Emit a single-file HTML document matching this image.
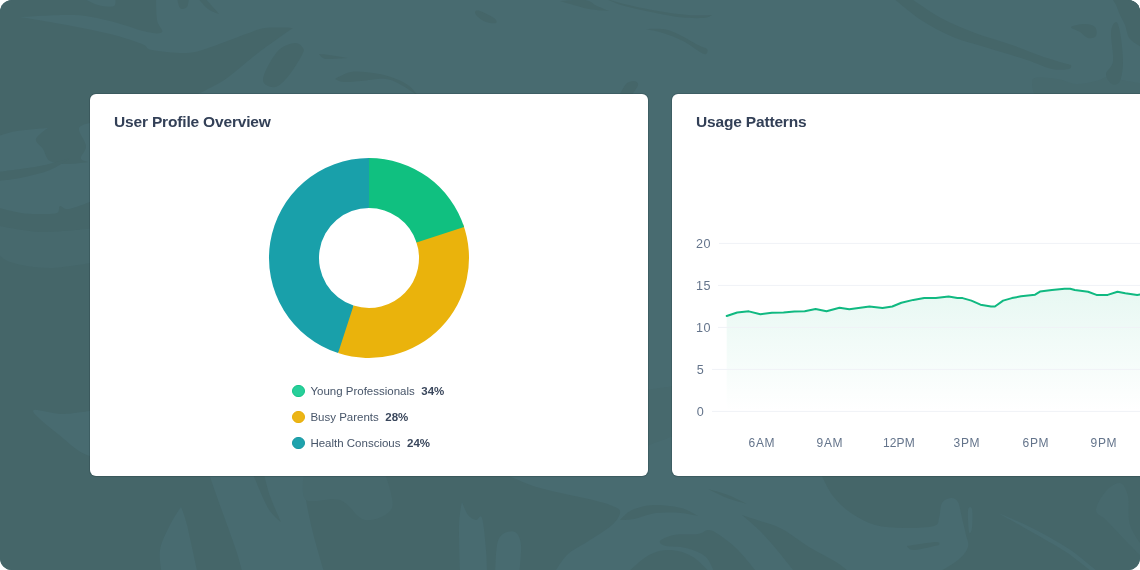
<!DOCTYPE html>
<html lang="en">
<head>
<meta charset="utf-8">
<title>Dashboard</title>
<style>
  html, body { margin: 0; padding: 0; background: #ffffff; }
  body { width: 1140px; height: 570px; overflow: hidden; font-family: "Liberation Sans", sans-serif; }
  .stage { position: relative; width: 1140px; height: 570px; border-radius: 12px; overflow: hidden; background: #456669; }
  .bg { position: absolute; left: 0; top: 0; width: 1140px; height: 570px; }
  .card { position: absolute; top: 94px; width: 558px; height: 382px; background: #ffffff; border-radius: 6px; box-shadow: 0 0 0 1px rgba(10,30,35,0.16), 0 1px 2px rgba(0,0,0,0.04); }
  .card.left { left: 90px; }
  .card.right { left: 672px; }
  .title { position: absolute; left: 24px; top: 18px; font-size: 15.5px; font-weight: 700; color: #334057; white-space: nowrap; letter-spacing: -0.17px; line-height: 20px; }
  .donut { position: absolute; left: 0; top: 0; width: 558px; height: 382px; }
  .legend { position: absolute; left: 202px; top: 284px; font-size: 11.5px; color: #475569; }
  .legend .row { height: 26px; display: flex; align-items: center; white-space: nowrap; }
  .legend .dot { width: 10.4px; height: 10.4px; border-radius: 50%; border: 1px solid; margin-left: 0.4px; margin-right: 5.6px; box-sizing: content-box; }
  .legend b { margin-left: 6.5px; color: #3a475c; font-weight: 700; }
  .chart { position: absolute; left: 0; top: 0; width: 558px; height: 382px; }
  .ylab, .xlab { position: absolute; font-size: 12px; color: #64748b; white-space: nowrap; line-height: 14px; }
  .ylab { letter-spacing: 0.5px; font-size: 12.6px; }
  .xlab { letter-spacing: 0.7px; margin-left: 0.95px; }
  .xlab { transform: translateX(-50%); }
</style>
</head>
<body>
<div class="stage">
  <svg class="bg" viewBox="0 0 1140 570">
    <rect width="1140" height="570" fill="#456669"/>
    <g fill="#486b70">
      <path d="M156,-5 C156.0,-5.0 156.0,13.8 157,20 C158.0,26.2 163.7,30.0 162,32 C160.3,34.0 155.7,33.8 147,32 C138.3,30.2 122.2,23.8 110,21 C97.8,18.2 89.0,15.7 74,15 C59.0,14.3 20.0,17.0 20,17 C20.0,17.0 46.0,21.2 61,24 C76.0,26.8 96.5,30.7 110,34 C123.5,37.3 135.0,41.3 142,44 C149.0,46.7 144.5,48.5 152,50 C159.5,51.5 177.2,53.5 187,53 C196.8,52.5 201.2,50.2 211,47 C220.8,43.8 237.0,37.2 246,34 C255.0,30.8 257.2,29.0 265,28 C272.8,27.0 293.0,28.0 293,28 C293.0,28.0 285.8,32.8 280,37 C274.2,41.2 265.3,47.3 258,53 C250.7,58.7 242.2,66.2 236,71 C229.8,75.8 228.7,77.5 221,82 C213.3,86.5 190.0,98.0 190,98 C190.0,98.0 1160.0,100.0 1160,100 C1160.0,100.0 1160.0,-5.0 1160,-5 C1160.0,-5.0 156.0,-5.0 156,-5 Z"/>
      <path d="M81,-3 C81.0,-3.0 115.0,-3.0 115,-3 C115.0,-3.0 116.8,4.7 114,6 C111.2,7.3 103.5,6.5 98,5 C92.5,3.5 81.0,-3.0 81,-3 Z"/>
      <path d="M-5,137 C-5.0,137.0 8.2,132.5 17,131 C25.8,129.5 48.0,128.0 48,128 C48.0,128.0 36.8,135.5 36,139 C35.2,142.5 40.7,145.3 43,149 C45.3,152.7 45.7,158.5 50,161 C54.3,163.5 61.5,164.0 69,164 C76.5,164.0 95.0,161.0 95,161 C95.0,161.0 95.0,200.0 95,200 C95.0,200.0 74.8,208.0 69,209 C63.2,210.0 62.0,205.3 60,206 C58.0,206.7 60.2,211.7 57,213 C53.8,214.3 47.0,214.0 41,214 C35.0,214.0 28.7,214.2 21,213 C13.3,211.8 -5.0,207.0 -5,207 C-5.0,207.0 -5.0,137.0 -5,137 Z"/>
      <path d="M79,128 C80.5,124.0 95.0,122.0 95,122 C95.0,122.0 95.0,163.0 95,163 C95.0,163.0 82.5,161.8 81,159 C79.5,156.2 86.3,151.2 86,146 C85.7,140.8 77.5,132.0 79,128 Z"/>
      <path d="M34,410 C37.5,409.0 51.8,414.0 62,414 C72.2,414.0 95.0,410.0 95,410 C95.0,410.0 95.0,458.0 95,458 C95.0,458.0 85.2,455.0 79,451 C72.8,447.0 64.3,439.2 58,434 C51.7,428.8 45.0,424.0 41,420 C37.0,416.0 30.5,411.0 34,410 Z"/>
      <path d="M646,92 C646.0,92.0 674.0,92.0 674,92 C674.0,92.0 674.0,478.0 674,478 C674.0,478.0 646.0,478.0 646,478 C646.0,478.0 646.0,92.0 646,92 Z"/>
      <path d="M209,474 C209.0,474.0 304.0,474.0 304,474 C304.0,474.0 304.3,489.5 306,500 C307.7,510.5 310.8,524.5 314,537 C317.2,549.5 325.0,575.0 325,575 C325.0,575.0 243.0,575.0 243,575 C243.0,575.0 239.7,561.2 236,550 C232.3,538.8 225.5,520.7 221,508 C216.5,495.3 209.0,474.0 209,474 Z"/>
      <path d="M181,507 C181.0,507.0 184.2,513.7 187,525 C189.8,536.3 198.0,575.0 198,575 C198.0,575.0 162.0,575.0 162,575 C162.0,575.0 158.7,558.3 160,550 C161.3,541.7 166.5,532.2 170,525 C173.5,517.8 181.0,507.0 181,507 Z"/>
      <path d="M505,474 C505.0,474.0 525.3,483.7 540,488 C554.7,492.3 580.5,496.8 593,500 C605.5,503.2 610.5,504.8 615,507 C619.5,509.2 620.5,510.0 620,513 C619.5,516.0 617.5,520.2 612,525 C606.5,529.8 594.5,537.0 587,542 C579.5,547.0 572.7,549.5 567,555 C561.3,560.5 553.0,575.0 553,575 C553.0,575.0 934.0,575.0 934,575 C934.0,575.0 952.3,564.7 958,560 C963.7,555.3 966.7,551.2 968,547 C969.3,542.8 967.0,539.8 966,535 C965.0,530.2 963.3,523.5 962,518 C960.7,512.5 959.8,505.3 958,502 C956.2,498.7 953.7,497.8 951,498 C948.3,498.2 944.0,499.7 942,503 C940.0,506.3 940.3,514.2 939,518 C937.7,521.8 939.8,524.3 934,526 C928.2,527.7 913.8,528.2 904,528 C894.2,527.8 883.8,527.5 875,525 C866.2,522.5 858.0,517.8 851,513 C844.0,508.2 838.0,502.5 833,496 C828.0,489.5 821.0,474.0 821,474 C821.0,474.0 505.0,474.0 505,474 Z"/>
      <path d="M495,575 C495.0,575.0 495.7,551.8 497,545 C498.3,538.2 500.0,536.2 503,534 C506.0,531.8 512.0,530.2 515,532 C518.0,533.8 520.3,537.8 521,545 C521.7,552.2 519.0,575.0 519,575 C519.0,575.0 495.0,575.0 495,575 Z"/>
      <path d="M460,575 C460.0,575.0 458.7,537.2 459,525 C459.3,512.8 462.0,502.0 462,502 C462.0,502.0 465.7,512.0 468,515 C470.3,518.0 473.7,519.5 476,520 C478.3,520.5 480.3,513.0 482,518 C483.7,523.0 485.2,540.5 486,550 C486.8,559.5 487.0,575.0 487,575 C487.0,575.0 460.0,575.0 460,575 Z"/>
      <path d="M968,510 C968.5,506.2 971.3,506.0 972,509 C972.7,512.0 972.5,524.2 972,528 C971.5,531.8 969.7,535.0 969,532 C968.3,529.0 967.5,513.8 968,510 Z"/>
      <path d="M998,513 C998.0,513.0 1020.2,522.0 1032,528 C1043.8,534.0 1058.0,541.7 1069,549 C1080.0,556.3 1098.0,572.0 1098,572 C1098.0,572.0 1092.0,572.0 1092,572 C1092.0,572.0 1076.3,558.8 1066,552 C1055.7,545.2 1041.3,537.5 1030,531 C1018.7,524.5 998.0,513.0 998,513 Z"/>
    </g>
    <g fill="#47696d">
      <path d="M1033,79 C1036.5,75.5 1049.8,78.2 1057,79 C1064.2,79.8 1069.5,83.7 1076,84 C1082.5,84.3 1090.3,82.3 1096,81 C1101.7,79.7 1105.7,76.2 1110,76 C1114.3,75.8 1116.2,78.7 1122,80 C1127.8,81.3 1145.0,84.0 1145,84 C1145.0,84.0 1145.0,100.0 1145,100 C1145.0,100.0 1036.0,100.0 1036,100 C1036.0,100.0 1029.5,82.5 1033,79 Z"/>
      <path d="M304,474 C304.0,474.0 385.0,474.0 385,474 C385.0,474.0 395.3,500.3 392,508 C388.7,515.7 373.7,521.3 365,520 C356.3,518.7 349.8,503.3 340,500 C330.2,496.7 312.0,504.3 306,500 C300.0,495.7 304.0,474.0 304,474 Z"/>
      <path d="M1096,510 C1096.0,505.2 1102.0,495.5 1106,491 C1110.0,486.5 1116.3,482.2 1120,483 C1123.7,483.8 1126.3,489.0 1128,496 C1129.7,503.0 1127.2,516.0 1130,525 C1132.8,534.0 1145.0,550.0 1145,550 C1145.0,550.0 1145.0,560.0 1145,560 C1145.0,560.0 1131.5,546.7 1125,540 C1118.5,533.3 1110.8,525.0 1106,520 C1101.2,515.0 1096.0,514.8 1096,510 Z"/>
      <path d="M-5,225 C-5.0,225.0 23.3,231.5 40,232 C56.7,232.5 95.0,228.0 95,228 C95.0,228.0 95.0,262.0 95,262 C95.0,262.0 64.2,268.0 50,268 C35.8,268.0 19.2,265.0 10,262 C0.8,259.0 -5.0,250.0 -5,250 C-5.0,250.0 -5.0,225.0 -5,225 Z"/>
      <path d="M646,390 C646.0,390.0 674.0,386.0 674,386 C674.0,386.0 674.0,436.0 674,436 C674.0,436.0 646.0,446.0 646,446 C646.0,446.0 646.0,390.0 646,390 Z"/>
    </g>
    <g fill="#456669">
      <path d="M263,80 C263.0,76.7 265.2,71.2 268,66 C270.8,60.8 275.5,52.8 280,49 C284.5,45.2 291.2,43.2 295,43 C298.8,42.8 301.8,46.0 303,48 C304.2,50.0 304.2,50.7 302,55 C299.8,59.3 294.0,68.8 290,74 C286.0,79.2 281.7,84.0 278,86 C274.3,88.0 270.5,87.0 268,86 C265.5,85.0 263.0,83.3 263,80 Z"/>
      <path d="M319,54 C319.0,54.0 324.2,54.3 329,55 C333.8,55.7 348.0,58.0 348,58 C348.0,58.0 333.2,59.0 329,59 C324.8,59.0 324.7,58.8 323,58 C321.3,57.2 319.0,54.0 319,54 Z"/>
      <path d="M335,79 C335.0,79.0 344.7,73.0 351,72 C357.3,71.0 366.3,72.2 373,73 C379.7,73.8 385.2,75.0 391,77 C396.8,79.0 403.5,81.8 408,85 C412.5,88.2 418.0,96.0 418,96 C418.0,96.0 408.3,88.8 403,86 C397.7,83.2 393.0,79.8 386,79 C379.0,78.2 368.0,80.5 361,81 C354.0,81.5 348.3,82.3 344,82 C339.7,81.7 335.0,79.0 335,79 Z"/>
      <path d="M177,-3 C177.0,-3.0 189.0,-3.0 189,-3 C189.0,-3.0 188.5,5.2 187,7 C185.5,8.8 181.7,9.7 180,8 C178.3,6.3 177.0,-3.0 177,-3 Z"/>
      <path d="M197,-3 C197.0,-3.0 204.0,-3.0 204,-3 C204.0,-3.0 219.0,14.0 219,14 C219.0,14.0 211.7,11.8 208,9 C204.3,6.2 197.0,-3.0 197,-3 Z"/>
      <path d="M475,12 C475.3,11.0 476.8,10.0 480,11 C483.2,12.0 491.3,16.0 494,18 C496.7,20.0 497.3,22.3 496,23 C494.7,23.7 489.0,23.0 486,22 C483.0,21.0 479.8,18.7 478,17 C476.2,15.3 474.7,13.0 475,12 Z"/>
      <path d="M560,1 C560.0,1.0 578.8,-0.8 585,0 C591.2,0.8 593.0,4.2 597,6 C601.0,7.8 609.0,11.0 609,11 C609.0,11.0 595.5,10.2 589,9 C582.5,7.8 574.8,5.3 570,4 C565.2,2.7 560.0,1.0 560,1 Z"/>
      <path d="M604,-2 C604.0,-2.0 615.0,1.8 624,4 C633.0,6.2 647.3,9.2 658,11 C668.7,12.8 679.0,14.3 688,15 C697.0,15.7 712.0,15.0 712,15 C712.0,15.0 708.7,17.7 703,18 C697.3,18.3 687.5,18.2 678,17 C668.5,15.8 655.5,13.0 646,11 C636.5,9.0 628.0,7.2 621,5 C614.0,2.8 604.0,-2.0 604,-2 Z"/>
      <path d="M645,29 C645.0,29.0 657.5,28.2 663,29 C668.5,29.8 672.2,31.3 678,34 C683.8,36.7 693.2,42.5 698,45 C702.8,47.5 705.7,47.5 707,49 C708.3,50.5 707.2,53.5 706,54 C704.8,54.5 703.8,54.2 700,52 C696.2,49.8 689.2,44.2 683,41 C676.8,37.8 669.3,35.0 663,33 C656.7,31.0 645.0,29.0 645,29 Z"/>
      <path d="M619,96 C619.0,96.0 623.5,86.5 626,84 C628.5,81.5 632.0,80.8 634,81 C636.0,81.2 638.5,82.5 638,85 C637.5,87.5 631.0,96.0 631,96 C631.0,96.0 619.0,96.0 619,96 Z"/>
      <path d="M892,-3 C892.0,-3.0 909.0,-3.0 909,-3 C909.0,-3.0 930.0,12.0 941,18 C952.0,24.0 963.2,28.5 975,33 C986.8,37.5 1000.0,40.8 1012,45 C1024.0,49.2 1037.2,54.7 1047,58 C1056.8,61.3 1071.0,65.0 1071,65 C1071.0,65.0 1072.2,68.3 1069,69 C1065.8,69.7 1059.0,70.5 1052,69 C1045.0,67.5 1037.7,63.5 1027,60 C1016.3,56.5 1000.3,51.8 988,48 C975.7,44.2 964.2,41.7 953,37 C941.8,32.3 931.2,26.7 921,20 C910.8,13.3 892.0,-3.0 892,-3 Z"/>
      <path d="M1111,-3 C1111.0,-3.0 1145.0,-3.0 1145,-3 C1145.0,-3.0 1145.0,49.0 1145,49 C1145.0,49.0 1133.3,43.0 1130,39 C1126.7,35.0 1126.7,29.0 1125,25 C1123.3,21.0 1121.5,18.3 1120,15 C1118.5,11.7 1117.5,8.0 1116,5 C1114.5,2.0 1111.0,-3.0 1111,-3 Z"/>
      <path d="M1106,74 C1106.2,70.2 1112.2,68.0 1113,61 C1113.8,54.0 1110.5,38.5 1111,32 C1111.5,25.5 1114.5,22.0 1116,22 C1117.5,22.0 1118.8,25.5 1120,32 C1121.2,38.5 1123.0,52.8 1123,61 C1123.0,69.2 1121.8,77.2 1120,81 C1118.2,84.8 1114.3,85.2 1112,84 C1109.7,82.8 1105.8,77.8 1106,74 Z"/>
      <path d="M1071,27 C1071.8,25.7 1081.0,24.0 1085,24 C1089.0,24.0 1093.2,25.0 1095,27 C1096.8,29.0 1097.2,34.2 1096,36 C1094.8,37.8 1090.7,38.7 1088,38 C1085.3,37.3 1082.8,33.8 1080,32 C1077.2,30.2 1070.2,28.3 1071,27 Z"/>
      <path d="M-3,172 C-3.0,172.0 27.8,168.3 40,166 C52.2,163.7 70.0,158.0 70,158 C70.0,158.0 58.3,166.7 50,170 C41.7,173.3 28.8,176.2 20,178 C11.2,179.8 -3.0,181.0 -3,181 C-3.0,181.0 -3.0,172.0 -3,172 Z"/>
      <path d="M253,474 C253.0,474.0 264.0,474.0 264,474 C264.0,474.0 267.2,488.0 270,496 C272.8,504.0 281.0,522.0 281,522 C281.0,522.0 272.7,516.0 268,508 C263.3,500.0 253.0,474.0 253,474 Z"/>
      <path d="M620,520 C620.0,520.0 626.3,512.5 632,510 C637.7,507.5 645.8,505.3 654,505 C662.2,504.7 673.7,506.2 681,508 C688.3,509.8 698.0,516.0 698,516 C698.0,516.0 688.0,513.5 681,513 C674.0,512.5 663.8,512.0 656,513 C648.2,514.0 640.0,517.8 634,519 C628.0,520.2 620.0,520.0 620,520 Z"/>
      <path d="M660,541 C661.3,539.2 667.7,536.2 674,535 C680.3,533.8 692.3,534.8 698,534 C703.7,533.2 704.7,530.0 708,530 C711.3,530.0 713.0,530.7 718,534 C723.0,537.3 731.2,543.2 738,550 C744.8,556.8 759.0,575.0 759,575 C759.0,575.0 715.0,575.0 715,575 C715.0,575.0 710.8,561.5 706,557 C701.2,552.5 692.7,549.8 686,548 C679.3,546.2 670.3,547.2 666,546 C661.7,544.8 658.7,542.8 660,541 Z"/>
      <path d="M742,515 C742.0,515.0 750.3,517.7 757,520 C763.7,522.3 773.3,524.5 782,529 C790.7,533.5 800.0,541.5 809,547 C818.0,552.5 828.7,557.3 836,562 C843.3,566.7 853.0,575.0 853,575 C853.0,575.0 797.0,575.0 797,575 C797.0,575.0 783.2,557.3 777,550 C770.8,542.7 765.8,536.8 760,531 C754.2,525.2 742.0,515.0 742,515 Z"/>
      <path d="M625,575 C625.0,575.0 641.3,559.2 649,555 C656.7,550.8 663.7,549.7 671,550 C678.3,550.3 686.2,552.8 693,557 C699.8,561.2 712.0,575.0 712,575 C712.0,575.0 625.0,575.0 625,575 Z"/>
      <path d="M708,489 C708.0,489.0 721.5,492.5 728,495 C734.5,497.5 747.0,504.0 747,504 C747.0,504.0 733.5,500.5 727,498 C720.5,495.5 708.0,489.0 708,489 Z"/>
      <path d="M907,546 C907.0,546.0 930.7,542.2 936,542 C941.3,541.8 939.0,545.0 939,545 C939.0,545.0 919.3,549.8 914,550 C908.7,550.2 907.0,546.0 907,546 Z"/>
    </g>
  </svg>

  <div class="card left">
    <div class="title">User Profile Overview</div>
    <svg class="donut" viewBox="0 0 558 382">
      <g transform="translate(279,164)">
        <circle r="75" fill="none" stroke="#19a0aa" stroke-width="48"/>
        <path d="M-30.902,95.106 A100,100 0 0 1 -0.0,-100.0 L-0.0,-50.0 A50,50 0 0 0 -15.451,47.553 Z" fill="#19a0aa"/>
        <path d="M93.969,-34.202 A100,100 0 0 1 -30.902,95.106 L-15.451,47.553 A50,50 0 0 0 46.985,-17.101 Z" fill="#eab30c"/>
        <path d="M0.0,-100.0 A100,100 0 0 1 95.106,-30.902 L47.553,-15.451 A50,50 0 0 0 0.0,-50.0 Z" fill="#10c080"/>
      </g>
    </svg>
    <div class="legend">
      <div class="row"><span class="dot" style="background:#27cf9a;border-color:#12c387"></span>Young Professionals<b>34%</b></div>
      <div class="row"><span class="dot" style="background:#ecb516;border-color:#e8ae08"></span>Busy Parents<b>28%</b></div>
      <div class="row"><span class="dot" style="background:#1fa3ad;border-color:#1798a2"></span>Health Conscious<b>24%</b></div>
    </div>
  </div>

  <div class="card right">
    <div class="title">Usage Patterns</div>
    <svg class="chart" viewBox="0 0 558 382">
      <defs>
        <linearGradient id="fillg" x1="0" y1="0" x2="0" y2="1">
          <stop offset="0" stop-color="#10b981" stop-opacity="0.10"/>
          <stop offset="1" stop-color="#10b981" stop-opacity="0"/>
        </linearGradient>
      </defs>
      <g id="plot">
        <path d="M54.7,222.05 L65.2,218.5 L76.8,217.35 L88.35,220.3 L99.9,218.7 L111.5,218.5 L122.4,217.4 L132.7,217.2 L143.6,215.1 L154.5,217.2 L167.5,213.7 L177.3,215.3 L197.5,212.5 L210.5,213.9 L220.3,212.5 L229.4,208.8 L241.3,205.9 L252.2,203.9 L263.8,204.1 L276.6,202.6 L285.4,204.1 L290.6,204.1 L299.4,206.6 L308.5,210.7 L319.05,212.5 L322.9,212.5 L331.1,206.6 L339.9,204.1 L349.05,202.3 L363.1,200.7 L368,197.6 L379.9,196.0 L392.6,194.65 L398.2,194.7 L402.8,195.95 L416.1,197.75 L424.5,200.9 L435.7,200.9 L445.5,197.75 L453.3,199.2 L465.2,201.05 L476,199.3 L488,199.0 L488,317.3 L54.7,317.3 Z" fill="url(#fillg)"/>
        <rect x="47" y="148.9" width="500" height="1" fill="#f0f2f7"/>
        <rect x="46" y="190.9" width="500" height="1" fill="#f0f2f7"/>
        <rect x="46" y="232.9" width="500" height="1" fill="#f0f2f7"/>
        <rect x="40" y="274.9" width="500" height="1" fill="#f0f2f7"/>
        <rect x="40" y="316.9" width="500" height="1" fill="#f0f2f7"/>
        <path d="M54.7,222.05 L65.2,218.5 L76.8,217.35 L88.35,220.3 L99.9,218.7 L111.5,218.5 L122.4,217.4 L132.7,217.2 L143.6,215.1 L154.5,217.2 L167.5,213.7 L177.3,215.3 L197.5,212.5 L210.5,213.9 L220.3,212.5 L229.4,208.8 L241.3,205.9 L252.2,203.9 L263.8,204.1 L276.6,202.6 L285.4,204.1 L290.6,204.1 L299.4,206.6 L308.5,210.7 L319.05,212.5 L322.9,212.5 L331.1,206.6 L339.9,204.1 L349.05,202.3 L363.1,200.7 L368,197.6 L379.9,196.0 L392.6,194.65 L398.2,194.7 L402.8,195.95 L416.1,197.75 L424.5,200.9 L435.7,200.9 L445.5,197.75 L453.3,199.2 L465.2,201.05 L476,199.3 L488,199.0" fill="none" stroke="#10b981" stroke-width="2" stroke-linejoin="round" stroke-linecap="round"/>
      </g>
    </svg>
    <div class="ylab" style="left:24px;top:142.5px">20</div>
    <div class="ylab" style="left:24px;top:184.5px">15</div>
    <div class="ylab" style="left:24px;top:226.5px">10</div>
    <div class="ylab" style="left:24.8px;top:268.5px">5</div>
    <div class="ylab" style="left:24.8px;top:310.5px">0</div>
    <div class="xlab" style="left:89px;top:342px">6AM</div>
    <div class="xlab" style="left:157px;top:342px">9AM</div>
    <div class="xlab" style="left:226px;top:342px;letter-spacing:0.1px">12PM</div>
    <div class="xlab" style="left:294px;top:342px">3PM</div>
    <div class="xlab" style="left:363px;top:342px">6PM</div>
    <div class="xlab" style="left:431px;top:342px">9PM</div>
  </div>
</div>
</body>
</html>
